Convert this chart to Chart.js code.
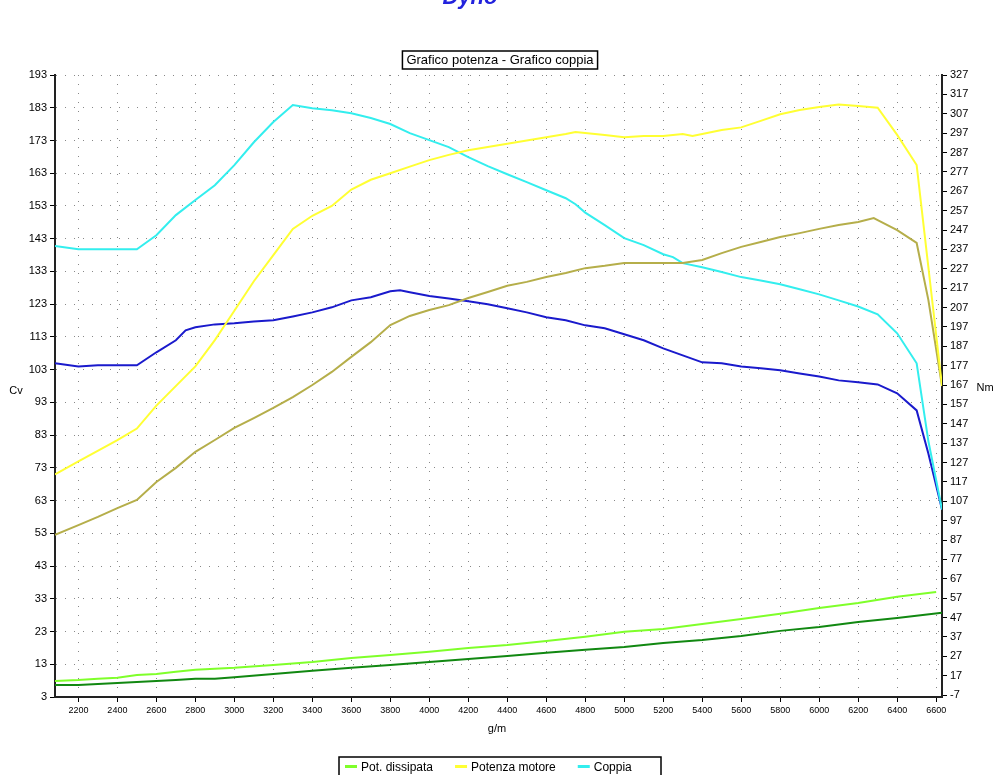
<!DOCTYPE html>
<html lang="it">
<head>
<meta charset="UTF-8">
<title>Grafico potenza - Grafico coppia</title>
<script src="https://cdn.jsdelivr.net/npm/chart.js"></script>
<style>body{margin:0;background:#fff}</style>
</head>
<body>
<canvas id="dyno" width="1000" height="775"></canvas>
<script>
// data (rpm -> value)
const rpmPow = [2080,2200,2400,2500,2600,2800,2900,3000,3100,3200,3300,3400,3500,3600,3700,3800,3900,4000,4100,4200,4300,4400,4500,4600,4700,4750,4900,5000,5100,5200,5300,5350,5400,5500,5600,5700,5800,5900,6000,6100,6200,6300,6400,6500,6630];
const potenza = [71,75,81.5,85,92,104,112,121,130,138,146,150,153,158,161,163,165,167,168.6,170,171,172,173,174,175,175.6,174.7,174,174.4,174.4,175,174.4,175,176.2,177,179,181,182.3,183.2,184,183.5,183,174.7,165.5,98];

const rpmCop = [2080,2200,2300,2400,2500,2550,2600,2700,2800,2900,3000,3100,3200,3300,3400,3500,3600,3700,3800,3900,4000,4100,4200,4300,4400,4500,4600,4700,4750,4800,4900,5000,5100,5200,5250,5300,5400,5500,5600,5700,5800,5900,6000,6100,6200,6300,6400,6500,6560,6630];
const coppia = [238.7,237.1,237.1,237.1,237.1,240.7,244.3,254.7,262.5,270.1,280.5,292.3,302.7,311.5,309.9,308.8,307.3,304.8,301.7,297,293.4,289.8,284.6,280,275.8,271.7,267.5,263.4,260.3,256,249.5,242.8,239.2,234.5,233,229.9,227.8,225.3,222.7,221,219,216.4,213.8,210.7,207.5,203.5,193.7,178.2,138.1,102.8];

const rpm2 = [2080,2200,2300,2400,2500,2600,2700,2750,2800,2900,3000,3100,3200,3300,3400,3500,3600,3700,3800,3850,3900,4000,4100,4200,4300,4400,4500,4600,4700,4800,4900,5000,5100,5200,5300,5400,5500,5600,5700,5800,5900,6000,6100,6200,6300,6400,6500,6560,6630];
const coppia2 = [178.2,176.6,177.2,177.2,177.2,183.9,190.1,195.2,196.8,198.3,198.9,199.8,200.4,202.4,204.5,207.1,210.7,212.3,215.4,215.9,214.9,212.9,211.7,210.2,208.7,206.6,204.5,202,200.4,197.8,196.3,193.2,190.1,185.9,182.3,178.7,178.2,176.6,175.6,174.6,173,171.4,169.4,168.4,167.3,162.7,153.9,131.7,102.8];

const rpmPow2 = [2080,2200,2300,2400,2500,2600,2700,2800,2900,3000,3100,3200,3300,3400,3500,3600,3700,3800,3900,4000,4100,4200,4300,4400,4500,4600,4700,4800,4900,5000,5100,5200,5300,5400,5500,5600,5700,5800,5900,6000,6100,6200,6280,6300,6400,6500,6560,6630];
const potenza2 = [52.5,55.5,58,60.7,63.2,68.7,73,77.9,81.5,85.2,88.2,91.3,94.6,98.3,102.3,106.9,111.4,116.6,119.4,121.2,122.7,124.9,126.7,128.6,129.8,131.3,132.5,134,134.7,135.6,135.6,135.6,135.6,136.5,138.6,140.5,142,143.5,144.7,146,147.2,148.1,149.3,148.7,145.6,141.7,124.3,98];

const rpmDiss = [2080,2200,2300,2400,2500,2600,2700,2800,2900,3000,3200,3400,3600,3800,4000,4200,4400,4600,4800,5000,5200,5400,5600,5800,6000,6200,6400,6600];
const dissipata = [7.9,8.2,8.6,8.9,9.7,10,10.7,11.3,11.6,11.9,12.8,13.7,14.9,15.8,16.8,18,18.9,20.1,21.4,22.9,23.8,25.3,26.8,28.4,30.2,31.7,33.6,35.1];
const rpmDiss2 = [2080,2200,2400,2600,2700,2800,2900,3000,3200,3400,3600,3800,4000,4200,4400,4600,4800,5000,5200,5400,5600,5800,6000,6200,6400,6630];
const dissipata2 = [6.7,6.7,7.3,7.9,8.2,8.6,8.6,9,10,11,11.9,12.8,13.7,14.6,15.5,16.5,17.4,18.3,19.5,20.4,21.6,23.2,24.4,25.9,27.1,28.7];

const legendLabels = ['Pot. dissipata', 'Potenza motore', 'Coppia'];
const legendColors = ['#7fff2a', '#ffff33', '#33eeee'];

const pts = (xs, ys) => xs.map((x, i) => ({ x: x, y: ys[i] }));
const line = (xs, ys, color, axis) => ({
    data: pts(xs, ys), borderColor: color, borderWidth: 2,
    pointRadius: 0, fill: false, tension: 0, yAxisID: axis
});

const FONT = 'Liberation Sans, Arial, sans-serif';

// extra texts: title box, axis names, legend box
const decor = {
    id: 'decor',
    afterDraw(chart) {
        const c = chart.ctx;
        c.save();
        c.fillStyle = '#2222dd';
        c.font = 'italic bold 22px ' + FONT;
        c.textAlign = 'center';
        c.fillText('Dyno', 470, 4);

        c.font = '13px ' + FONT;
        const t = 'Grafico potenza - Grafico coppia';
        const w = c.measureText(t).width;
        c.fillStyle = '#fff';
        c.fillRect(500 - w / 2 - 4, 51, w + 8, 18);
        c.strokeStyle = '#000'; c.lineWidth = 1.5;
        c.strokeRect(500 - w / 2 - 4, 51, w + 8, 18);
        c.fillStyle = '#000';
        c.textBaseline = 'middle';
        c.fillText(t, 500, 60);

        c.font = '11px ' + FONT;
        c.fillText('Cv', 16, 391);
        c.fillText('Nm', 985, 388);
        c.fillText('g/m', 497, 729);

        c.lineWidth = 1.5;
        c.strokeRect(339, 757, 322, 30);
        c.textAlign = 'left';
        c.font = '12px ' + FONT;
        let x = 345;
        legendLabels.forEach((lab, i) => {
            c.fillStyle = legendColors[i];
            c.fillRect(x, 765, 12, 3);
            c.fillStyle = '#000';
            c.fillText(lab, x + 16, 768);
            x += 16 + c.measureText(lab).width + 22;
        });
        c.restore();
    }
};

const gridStyle = { color: '#888', tickLength: 5, tickColor: '#000', drawTicks: true };
const border = { color: '#222', width: 2, dash: [1, 8] };

new Chart(document.getElementById('dyno'), {
    type: 'line',
    data: {
        datasets: [
            line(rpmDiss, dissipata, '#7fff2a', 'y'),
            line(rpmDiss2, dissipata2, '#118811', 'y'),
            line(rpmPow, potenza, '#ffff33', 'y'),
            line(rpmPow2, potenza2, '#b5ae4a', 'y'),
            line(rpmCop, coppia, '#33eeee', 'y1'),
            line(rpm2, coppia2, '#1a1acc', 'y1')
        ]
    },
    options: {
        responsive: false,
        animation: false,
        layout: { padding: { top: 75, bottom: 0, left: 0, right: 0 } },
        plugins: { legend: { display: false }, tooltip: { enabled: false } },
        scales: {
            x: {
                type: 'linear', min: 2080, max: 6630,
                afterBuildTicks: a => { a.ticks = []; for (let v = 2200; v <= 6600; v += 200) a.ticks.push({ value: v }); },
                afterFit: a => { a.height = 78; },
                ticks: { font: { size: 9, family: FONT }, color: '#000', maxRotation: 0, autoSkip: false, callback: v => String(v) },
                grid: gridStyle,
                border: border
            },
            y: {
                position: 'left', min: 3, max: 193,
                afterBuildTicks: a => { a.ticks = []; for (let v = 3; v <= 193; v += 10) a.ticks.push({ value: v }); },
                afterFit: a => { a.width = 55; },
                ticks: { font: { size: 11, family: FONT }, color: '#000', autoSkip: false },
                grid: gridStyle,
                border: border
            },
            y1: {
                position: 'right', min: 6, max: 327,
                afterBuildTicks: a => { a.ticks = []; for (let v = 7; v <= 327; v += 10) a.ticks.push({ value: v }); },
                afterFit: a => { a.width = 58; },
                ticks: { font: { size: 11, family: FONT }, color: '#000', autoSkip: false, callback: v => v === 7 ? '-7' : String(v) },
                grid: { drawOnChartArea: false, tickLength: 5, tickColor: '#000' },
                border: { color: '#222', width: 2 }
            }
        }
    },
    plugins: [decor]
});
</script>
</body>
</html>
